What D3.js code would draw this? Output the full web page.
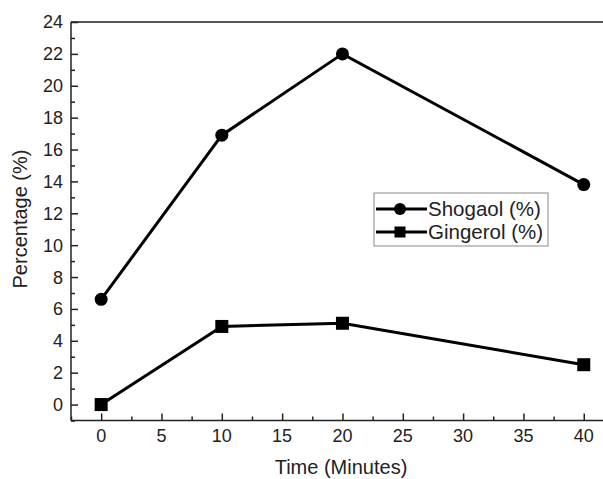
<!DOCTYPE html>
<html>
<head>
<meta charset="utf-8">
<script src="https://cdn.jsdelivr.net/npm/d3@7"></script>
<style>
	body { margin: 0; background: #fff; }
	svg { display: block; font-family: "Liberation Sans", Arial, sans-serif; }
</style>
</head>
<body>
<script>
	// Data
	const times = [0, 10, 20, 40];
	const shogaol = [6.6, 16.9, 22.0, 13.8];
	const gingerol = [0.0, 4.9, 5.1, 2.5];
	const xTicks = [0, 5, 10, 15, 20, 25, 30, 35, 40];
	const yTicks = [0, 2, 4, 6, 8, 10, 12, 14, 16, 18, 20, 22, 24];
	const seriesNames = ['Shogaol (%)', 'Gingerol (%)'];

	const width = 603, height = 479;
	const plotLeft = 71, plotTop = 22, plotBottom = 420.5;

	const svg = d3.select('body').append('svg')
		.attr('width', width)
		.attr('height', height);

	// Scales (plot runs past the right edge, as in the cropped original)
	const xScale = d3.scaleLinear().domain([-2.5, 42.5]).range([plotLeft, plotLeft + 45 * 12.065]);
	const yScale = d3.scaleLinear().domain([-1, 24]).range([plotBottom, plotTop]);

	// Top frame line
	svg.append('line')
		.attr('x1', plotLeft).attr('x2', width + 20)
		.attr('y1', plotTop).attr('y2', plotTop)
		.attr('stroke', '#555').attr('stroke-width', 2);

	// Minor ticks
	const yMinor = d3.range(-1, 24, 1).filter(d => d % 2 !== 0);
	const xMinor = d3.range(-2.5, 43, 5);

	// Y axis
	const yAxis = svg.append('g')
		.attr('transform', `translate(${plotLeft},0)`)
		.call(d3.axisRight(yScale).tickValues(yTicks).tickSize(7).tickFormat(''));
	svg.append('g')
		.attr('transform', `translate(${plotLeft},0)`)
		.call(d3.axisRight(yScale).tickValues(yMinor).tickSize(4).tickFormat(''))
		.select('.domain').remove();
	yAxis.select('.domain').attr('d', `M0,${plotTop}V${plotBottom}`);

	svg.selectAll('.ylab')
		.data(yTicks)
		.enter().append('text')
		.attr('class', 'ylab')
		.attr('x', plotLeft - 8)
		.attr('y', d => yScale(d))
		.attr('dy', '0.36em')
		.attr('text-anchor', 'end')
		.attr('font-size', 18)
		.attr('fill', '#222')
		.text(d => d);

	// X axis
	const xAxis = svg.append('g')
		.attr('transform', `translate(0,${plotBottom})`)
		.call(d3.axisTop(xScale).tickValues(xTicks).tickSize(7).tickFormat(''));
	svg.append('g')
		.attr('transform', `translate(0,${plotBottom})`)
		.call(d3.axisTop(xScale).tickValues(xMinor).tickSize(4).tickFormat(''))
		.select('.domain').remove();
	xAxis.select('.domain').attr('d', `M${plotLeft},0H${width + 20}`);

	svg.selectAll('.xlab')
		.data(xTicks)
		.enter().append('text')
		.attr('class', 'xlab')
		.attr('x', d => xScale(d))
		.attr('y', 442)
		.attr('text-anchor', 'middle')
		.attr('font-size', 18)
		.attr('fill', '#222')
		.text(d => d);

	svg.selectAll('.tick line, .domain')
		.attr('stroke', '#222')
		.attr('stroke-width', 1.5);

	// Axis titles
	svg.append('text')
		.attr('x', 341)
		.attr('y', 474)
		.attr('text-anchor', 'middle')
		.attr('font-size', 20)
		.attr('fill', '#222')
		.text('Time (Minutes)');

	svg.append('text')
		.attr('transform', 'translate(27,219) rotate(-90)')
		.attr('text-anchor', 'middle')
		.attr('font-size', 20)
		.attr('fill', '#222')
		.text('Percentage (%)');

	// Lines
	const line = d3.line()
		.x((d, i) => xScale(times[i]))
		.y(d => yScale(d));

	[shogaol, gingerol].forEach(values => {
		svg.append('path')
			.datum(values)
			.attr('d', line)
			.attr('fill', 'none')
			.attr('stroke', '#000')
			.attr('stroke-width', 3);
	});

	// Markers
	svg.selectAll('.circ')
		.data(shogaol)
		.enter().append('circle')
		.attr('class', 'circ')
		.attr('cx', (d, i) => xScale(times[i]))
		.attr('cy', d => yScale(d))
		.attr('r', 6.5)
		.attr('fill', '#000');

	svg.selectAll('.sq')
		.data(gingerol)
		.enter().append('rect')
		.attr('class', 'sq')
		.attr('x', (d, i) => xScale(times[i]) - 6.5)
		.attr('y', d => yScale(d) - 6.5)
		.attr('width', 13)
		.attr('height', 13)
		.attr('fill', '#000');

	// Legend
	const legend = svg.append('g').attr('transform', 'translate(374,193)');
	legend.append('rect')
		.attr('width', 174)
		.attr('height', 53)
		.attr('fill', '#fff')
		.attr('stroke', '#888')
		.attr('stroke-width', 1);

	const entries = legend.selectAll('.entry')
		.data(seriesNames)
		.enter().append('g')
		.attr('class', 'entry')
		.attr('transform', (d, i) => `translate(0,${16 + i * 23})`);

	entries.append('line')
		.attr('x1', 2).attr('x2', 53)
		.attr('stroke', '#000')
		.attr('stroke-width', 3);

	entries.filter((d, i) => i === 0).append('circle')
		.attr('cx', 26).attr('r', 6).attr('fill', '#000');
	entries.filter((d, i) => i === 1).append('rect')
		.attr('x', 20.5).attr('y', -5.5).attr('width', 11).attr('height', 11).attr('fill', '#000');

	entries.append('text')
		.attr('x', 54)
		.attr('dy', '0.36em')
		.attr('font-size', 20.5)
		.attr('fill', '#222')
		.text(d => d);
</script>
</body>
</html>
